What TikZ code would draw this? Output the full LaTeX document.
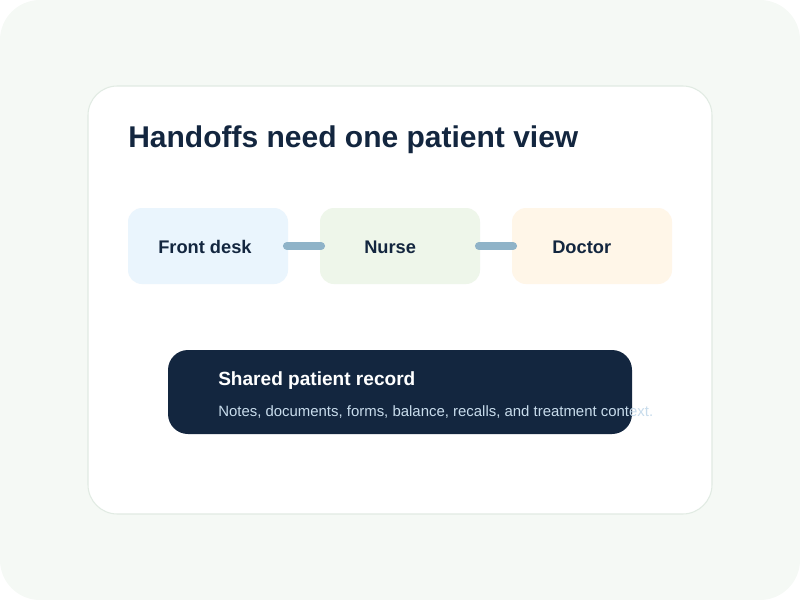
\documentclass[tikz,border=0pt]{standalone}
\usepackage{fontspec}
\setmainfont{Liberation Sans}
\definecolor{pageColor}{HTML}{F5F9F5}
\definecolor{cardBorder}{HTML}{E1EBE3}
\definecolor{navyColor}{HTML}{13263F}
\definecolor{deskColor}{HTML}{EAF5FD}
\definecolor{nurseColor}{HTML}{EEF6EA}
\definecolor{doctorColor}{HTML}{FFF6E8}
\definecolor{linkColor}{HTML}{8FB3C8}
\definecolor{noteColor}{HTML}{C8DCEC}
\begin{document}
\begin{tikzpicture}[
    x=0.75pt, y=-0.75pt,
    every node/.style={font=\bfseries\fontsize{13.7}{16}\selectfont, text=navyColor, inner sep=0pt},
    role/.style={rounded corners=10.5pt, minimum width=120pt, minimum height=57pt},
    role label/.style={anchor=west},
    link/.style={linkColor, line width=6pt, line cap=round}
]
    \useasboundingbox (0,0) rectangle (800,600);
    \fill[pageColor, rounded corners=30pt] (0,0) rectangle (800,600);
    \draw[cardBorder, fill=white, rounded corners=22pt, line width=0.8pt] (88,86) rectangle (712,514);

    \node[anchor=west, font=\bfseries\fontsize{22.5}{27}\selectfont] (title) at (128,140) {Handoffs need one patient view};

    \node[role, fill=deskColor]   (desk)   at (208,246) {};
    \node[role, fill=nurseColor]  (nurse)  at (400,246) {};
    \node[role, fill=doctorColor] (doctor) at (592,246) {};
    \node[role label] at (158,247) {Front desk};
    \node[role label] at (364,247) {Nurse};
    \node[role label] at (552,247) {Doctor};

    \draw[link] ([xshift=-1pt]desk.east) -- ([xshift=1pt]nurse.west);
    \draw[link] ([xshift=-1pt]nurse.east) -- ([xshift=1pt]doctor.west);

    \node[fill=navyColor, rounded corners=15pt, minimum width=348pt, minimum height=63pt] (record) at (400,392) {};
    \node[anchor=west, text=white, font=\bfseries\fontsize{14.3}{17}\selectfont] (recordTitle) at (218,381) {Shared patient record};
    \node[anchor=west, text=noteColor, font=\fontsize{11.2}{13}\selectfont] (recordNote) at (218,412) {Notes, documents, forms, balance, recalls, and treatment context.};
\end{tikzpicture}
\end{document}
